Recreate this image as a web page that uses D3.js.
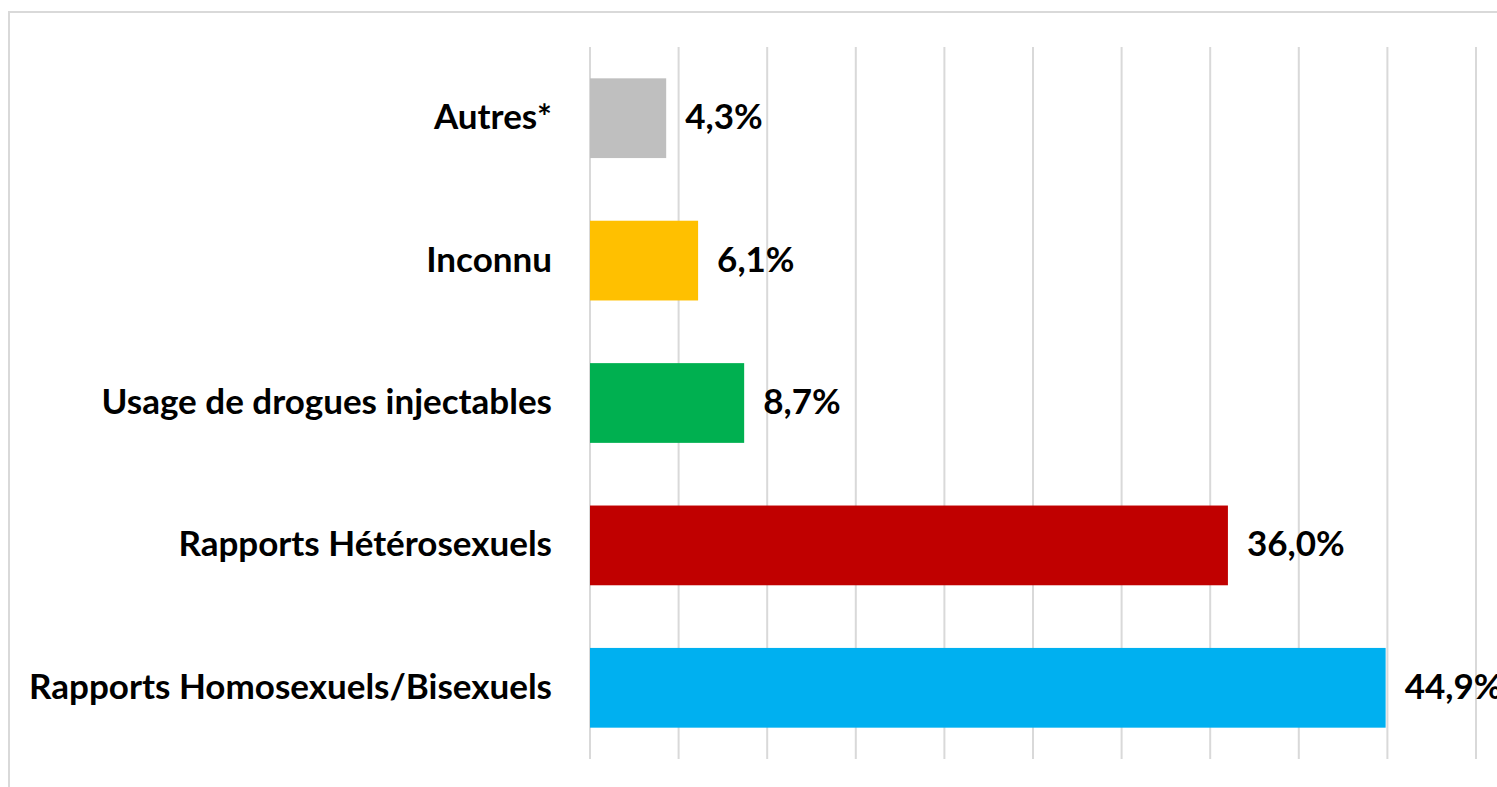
<!DOCTYPE html>
<html lang="fr">
<head>
<meta charset="UTF-8">
<title>Modes de contamination</title>
<script src="https://d3js.org/d3.v7.min.js"></script>
<style>
    body { margin: 0; background: #fff; }
    text { font-family: Lato, "Open Sans", sans-serif; font-weight: bold; fill: #000; }
</style>
</head>
<body>
<svg id="chart" width="1497" height="787"></svg>
<script>
// données (ordre de haut en bas)
const categories = ["Autres*", "Inconnu", "Usage de drogues injectables", "Rapports Hétérosexuels", "Rapports Homosexuels/Bisexuels"];
const values = [4.3, 6.1, 8.7, 36.0, 44.9];
const colors = ["#BFBFBF", "#FFC000", "#00B050", "#C00000", "#00B0F0"];
const gridTicks = [0, 5, 10, 15, 20, 25, 30, 35, 40, 45, 50];

const svg = d3.select("#chart");

// cadre du graphique (coupé à droite et en bas)
svg.append("rect")
    .attr("x", 9).attr("y", 12)
    .attr("width", 1560).attr("height", 820)
    .attr("fill", "none")
    .attr("stroke", "#d9d9d9")
    .attr("stroke-width", 2);

const x = d3.scaleLinear().domain([0, 50]).range([590, 1476]);
const y = d3.scaleBand().domain(categories).range([47, 759]).paddingInner(0.44).paddingOuter(0.22);

// grille verticale
svg.append("g")
    .selectAll("line")
    .data(gridTicks)
    .join("line")
    .attr("x1", d => x(d)).attr("x2", d => x(d))
    .attr("y1", 47).attr("y2", 759)
    .attr("stroke", "#d9d9d9")
    .attr("stroke-width", 2);

// barres
svg.append("g")
    .selectAll("rect")
    .data(values)
    .join("rect")
    .attr("x", x(0))
    .attr("y", (d, i) => y(categories[i]))
    .attr("width", d => x(d) - x(0))
    .attr("height", y.bandwidth())
    .attr("fill", (d, i) => colors[i]);

// libellés des catégories
const fs = 35;
svg.append("g")
    .selectAll("text")
    .data(categories)
    .join("text")
    .attr("x", 552)
    .attr("y", d => y(d) + y.bandwidth() / 2 + 11)
    .attr("text-anchor", "end")
    .attr("font-size", fs)
    .text(d => d);

// valeurs
const fmt = v => v.toFixed(1).replace(".", ",") + "%";
svg.append("g")
    .selectAll("text")
    .data(values)
    .join("text")
    .attr("x", d => x(d) + 19)
    .attr("y", (d, i) => y(categories[i]) + y.bandwidth() / 2 + 11)
    .attr("font-size", fs)
    .text(d => fmt(d));
</script>
</body>
</html>
